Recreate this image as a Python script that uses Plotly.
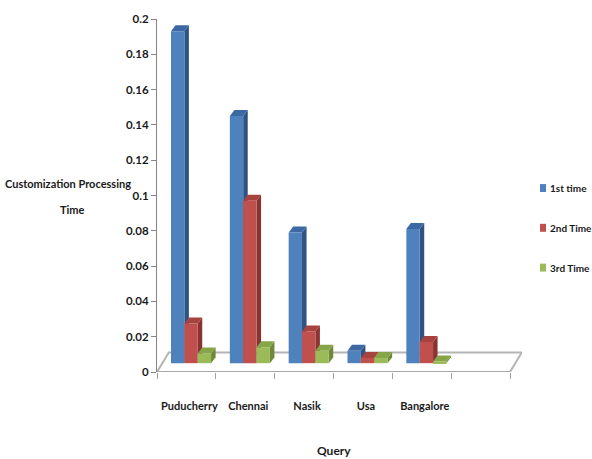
import plotly.graph_objects as go

# Processing times per query, one list per run
categories = ["Puducherry", "Chennai", "Nasik", "Usa", "Bangalore"]
first_time = [0.188, 0.140, 0.074, 0.007, 0.076]
second_time = [0.0225, 0.092, 0.018, 0.003, 0.012]
third_time = [0.0055, 0.009, 0.007, 0.003, 0.001]
series_names = ["1st time", "2nd Time", "3rd Time"]
y_ticks = [0, 0.02, 0.04, 0.06, 0.08, 0.1, 0.12, 0.14, 0.16, 0.18, 0.2]
y_tick_text = ["0", "0.02", "0.04", "0.06", "0.08", "0.1", "0.12", "0.14", "0.16", "0.18", "0.2"]

series = [first_time, second_time, third_time]
front_colors = ["#4F81BD", "#C0504D", "#9BBB59"]
side_colors = ["#2F5283", "#8A3431", "#6E8A38"]
top_colors = ["#3C69A3", "#A8423F", "#86A548"]

FONT = "Lato, Roboto, sans-serif"
TXT = "#1a1a1a"

W, H = 592, 459
M_L, M_R, M_T, M_B = 157, 70, 17, 87
PW, PH = W - M_L - M_R, H - M_T - M_B

def px_x(p):   # pixel column -> paper fraction
    return (p - M_L) / PW

def px_y(p):   # pixel row -> paper fraction
    return (H - M_B - p) / PH

n_slots = len(categories) + 1          # the floor has one empty slot on the right
bar_w = 0.227
offsets = [-0.262, -0.035, 0.192]
base = 0.005                            # bars stand in the middle of the floor depth
dx, dy = 0.077, 0.0034                  # bar depth (x in category units, y in value units)
floor_dx, floor_dy = 0.2, 0.011         # floor depth

fig = go.Figure()

shapes = []
# floor plane
fx0, fx1 = -0.5, n_slots - 0.5
shapes.append(dict(
    type="path", xref="x", yref="y", layer="below",
    path=f"M {fx0},0 L {fx1},0 L {fx1 + floor_dx},{floor_dy} L {fx0 + floor_dx},{floor_dy} Z",
    fillcolor="white", line=dict(color="#B4B4B4", width=2),
))

# side and top faces of every bar
for i in range(len(categories)):
    for k, vals in enumerate(series):
        x0 = i + offsets[k]
        x1 = x0 + bar_w
        top = base + vals[i]
        shapes.append(dict(
            type="path", xref="x", yref="y", layer="below",
            path=f"M {x1},{base} L {x1},{top} L {x1 + dx},{top + dy} L {x1 + dx},{base + dy} Z",
            fillcolor=side_colors[k], line=dict(width=0),
        ))
        shapes.append(dict(
            type="path", xref="x", yref="y", layer="below",
            path=f"M {x0},{top} L {x1},{top} L {x1 + dx},{top + dy} L {x0 + dx},{top + dy} Z",
            fillcolor=top_colors[k], line=dict(width=0),
        ))

# front faces
for k, vals in enumerate(series):
    fig.add_trace(go.Bar(
        x=list(range(len(categories))), y=vals, base=base,
        width=bar_w, offset=offsets[k],
        name=series_names[k], showlegend=False,
        marker=dict(color=front_colors[k], line=dict(width=0)),
    ))

# legend keys at the right
annotations = []
legend_rows = [187, 227, 267]
for k, name in enumerate(series_names):
    cy = legend_rows[k]
    shapes.append(dict(
        type="rect", xref="paper", yref="paper",
        x0=px_x(540), x1=px_x(546), y0=px_y(cy + 4), y1=px_y(cy - 4),
        fillcolor=front_colors[k], line=dict(width=0),
    ))
    annotations.append(dict(
        text=name, xref="paper", yref="paper", x=px_x(548), y=px_y(cy),
        xanchor="left", yanchor="middle", showarrow=False,
        font=dict(family=FONT, size=10, color=TXT, weight="bold"),
    ))

annotations += [
    dict(text="Customization Processing", xref="paper", yref="paper",
         x=px_x(68), y=px_y(182), xanchor="center", yanchor="middle", showarrow=False,
         font=dict(family=FONT, size=11, color=TXT, weight="bold")),
    dict(text="Time", xref="paper", yref="paper",
         x=px_x(72), y=px_y(209), xanchor="center", yanchor="middle", showarrow=False,
         font=dict(family=FONT, size=11, color=TXT, weight="bold")),
    dict(text="Query", xref="x", yref="paper",
         x=2.5, y=px_y(451), xanchor="center", yanchor="middle", showarrow=False,
         font=dict(family=FONT, size=12, color=TXT, weight="bold")),
]

fig.update_layout(
    width=W, height=H,
    margin=dict(l=M_L, r=M_R, t=M_T, b=M_B),
    paper_bgcolor="white", plot_bgcolor="white",
    barmode="overlay",
    showlegend=False,
    shapes=shapes,
    annotations=annotations,
    font=dict(family=FONT, size=12, color=TXT),
    xaxis=dict(
        range=[-0.5, 5.704], autorange=False,
        tickmode="array", tickvals=list(range(len(categories))), ticktext=categories,
        tickangle=0, ticks="", showline=False, showgrid=False, zeroline=False,
        ticklabelstandoff=26, ticklabelshift=3,
        tickfont=dict(family=FONT, size=11, color=TXT, weight="bold"),
        minor=dict(tickmode="array", tickvals=[j - 0.5 for j in range(n_slots + 1)],
                   ticks="outside", ticklen=6, tickcolor="#A0A0A0", showgrid=False),
    ),
    yaxis=dict(
        range=[0, 0.2], autorange=False,
        tickmode="array", tickvals=y_ticks, ticktext=y_tick_text,
        ticks="outside", ticklen=5, tickcolor="#868686",
        showline=True, linecolor="#868686", linewidth=1,
        showgrid=False, zeroline=False,
        tickfont=dict(family=FONT, size=11.5, color=TXT, weight="bold"),
    ),
)

# front edge of the floor drawn over the bars' bases
fig.add_shape(type="line", xref="x", yref="y", x0=fx0, x1=fx1, y0=0, y1=0,
              line=dict(color="#A8A8A8", width=2), layer="above")

fig.write_html("out.html")
